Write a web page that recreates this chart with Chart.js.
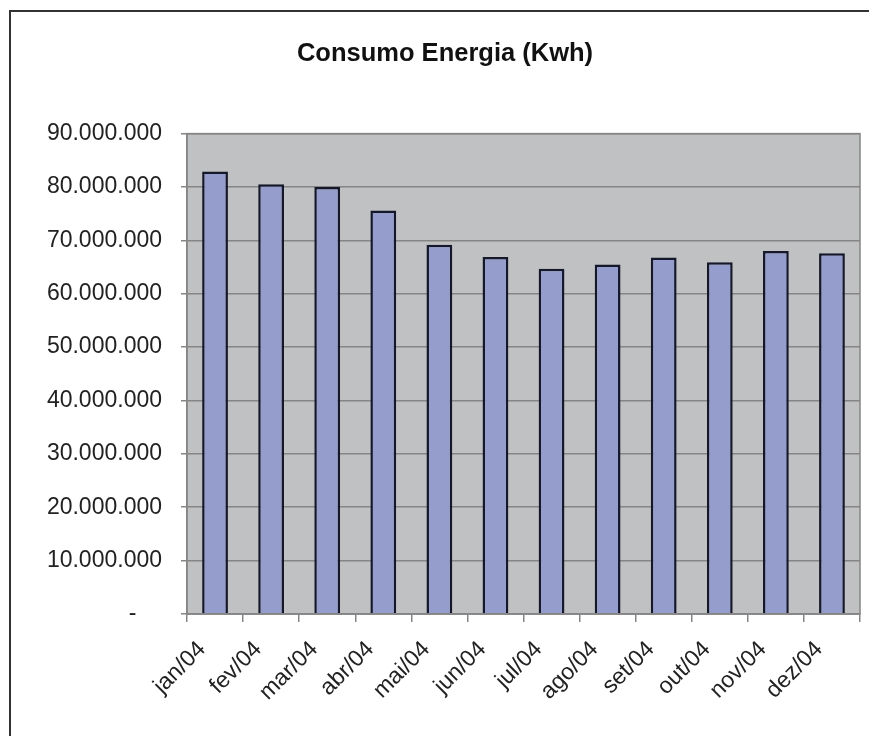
<!DOCTYPE html>
<html>
<head>
<meta charset="utf-8">
<script src="https://cdn.jsdelivr.net/npm/chart.js@4.4.1/dist/chart.umd.min.js"></script>
<style>
  html, body { margin: 0; padding: 0; background: #fff; overflow: hidden; }
  #wrap { position: relative; width: 869px; height: 736px; overflow: hidden; }
  #frame { position: absolute; left: 9px; top: 10px; width: 900px; height: 800px; border: 2px solid #333; }
  #holder { position: absolute; left: 0; top: 0; width: 890px; height: 736px; }
</style>
</head>
<body>
<div id="wrap">
  <div id="frame"></div>
  <div id="holder"><canvas id="myChart"></canvas></div>
</div>
<script>
// consumo mensal 2004
var meses = ["jan/04", "fev/04", "mar/04", "abr/04", "mai/04", "jun/04",
             "jul/04", "ago/04", "set/04", "out/04", "nov/04", "dez/04"];
var consumo = [82900000, 80500000, 80000000, 75600000, 69200000, 66900000,
               64700000, 65500000, 66800000, 65900000, 68000000, 67600000];
var yMin = 0;
var yMax = 90000000;
var yStep = 10000000;

function formatBR(v){
  if (v === 0) return "-    ";
  return String(v).replace(/\B(?=(\d{3})+(?!\d))/g, ".");
}

// fundo cinza e moldura da area de plotagem
var plotBg = {
  id: "plotBg",
  beforeDraw: function(chart){
    var a = chart.chartArea, ctx = chart.ctx;
    ctx.save();
    ctx.fillStyle = "#c0c1c3";
    ctx.fillRect(a.left, a.top, a.right - a.left, a.bottom - a.top);
    ctx.restore();
  },
  afterDatasetsDraw: function(chart){
    var a = chart.chartArea, ctx = chart.ctx;
    ctx.save();
    ctx.strokeStyle = "#858585";
    ctx.lineWidth = 1.5;
    ctx.strokeRect(a.left, a.top, a.right - a.left, a.bottom - a.top);
    ctx.restore();
  }
};

var ctx = document.getElementById("myChart").getContext("2d");
var chart = new Chart(ctx, {
  type: "bar",
  data: {
    labels: meses,
    datasets: [{
      label: "Consumo",
      data: consumo,
      backgroundColor: "#959dcc",
      borderColor: "#15182a",
      borderWidth: 2.5,
      categoryPercentage: 1,
      barPercentage: 0.46
    }]
  },
  options: {
    responsive: true,
    maintainAspectRatio: false,
    animation: false,
    layout: { padding: { left: 30, right: 30, top: 0, bottom: 0 } },
    plugins: {
      legend: { display: false },
      tooltip: { enabled: false },
      title: {
        display: true,
        text: "Consumo Energia (Kwh)",
        color: "#111",
        font: { family: "Liberation Sans", size: 25.5, weight: "bold" },
        padding: { top: 39, bottom: 64 }
      }
    },
    scales: {
      x: {
        border: { display: true, color: "#858585", width: 1.5 },
        grid: { display: true, offset: true, drawOnChartArea: false, drawTicks: true, tickLength: 8, color: "#858585", lineWidth: 1.5 },
        ticks: {
          autoSkip: false,
          maxRotation: 45,
          minRotation: 45,
          padding: 14,
          labelOffset: -13,
          color: "#222",
          font: { family: "Liberation Sans", size: 23 }
        },
        afterFit: function(scale){ scale.height = 122; }
      },
      y: {
        min: yMin,
        max: yMax,
        border: { display: true, color: "#858585", width: 1.5 },
        grid: { color: "#858585", lineWidth: 1.5, tickLength: 6 },
        ticks: {
          stepSize: yStep,
          padding: 19,
          color: "#222",
          font: { family: "Liberation Sans", size: 23 },
          callback: function(v){ return formatBR(v); }
        },
        afterFit: function(scale){ scale.width = 157; }
      }
    }
  },
  plugins: [plotBg]
});
</script>
</body>
</html>
